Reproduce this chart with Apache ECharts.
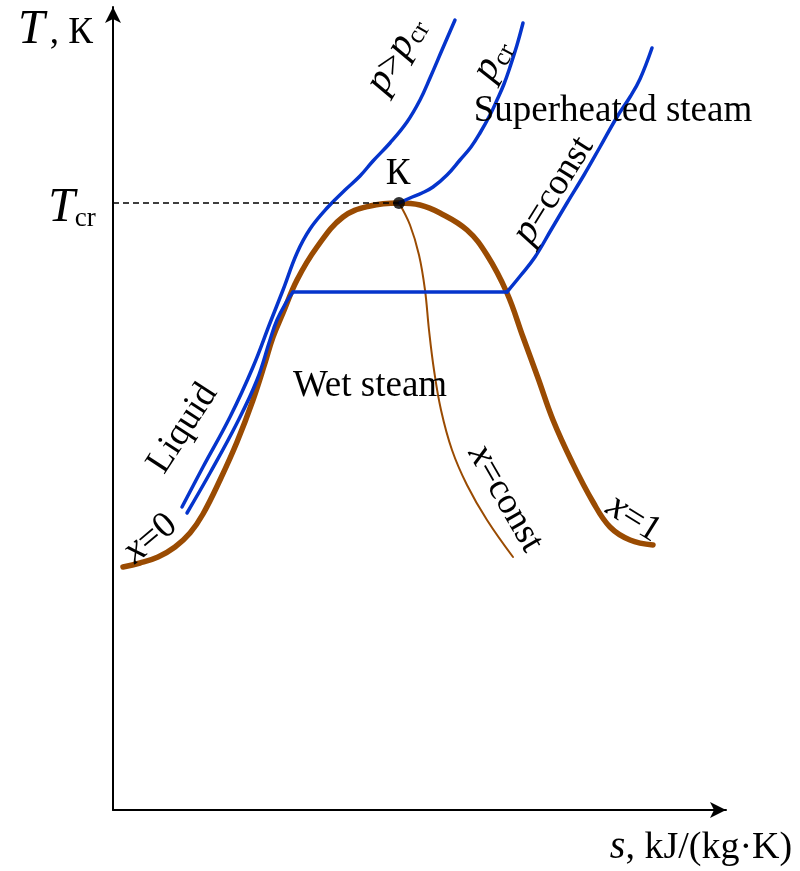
<!DOCTYPE html>
<html>
<head>
<meta charset="utf-8">
<script src="https://cdn.jsdelivr.net/npm/echarts@6/dist/echarts.min.js"></script>
<style>
html, body { margin: 0; padding: 0; background: #fff; }
#chart { width: 800px; height: 871px; }
</style>
</head>
<body>
<div id="chart"></div>
<script>
// Saturation dome: x = 0 branch, critical point, x = 1 branch  [s, T]
const saturationCurve = [
  [10, 243], [27, 247], [45, 253], [62, 263], [77, 277], [90, 296],
  [107, 330], [124, 368], [140, 410], [152, 447], [160, 473], [170, 497],
  [184, 530], [204, 563], [230, 593], [257, 604], [286, 607], [307, 605],
  [327, 597], [354, 580], [374, 555], [394, 517], [410, 473], [425, 432],
  [440, 390], [459, 348], [480, 308], [497, 283], [517, 270], [540, 265]
];

// Line of constant dryness inside the dome
const dryness = [
  [286, 607], [297, 585], [306, 555], [312, 520], [316, 480], [321, 440],
  [328, 400], [339, 360], [354, 325], [374, 290], [400, 253]
];

// Supercritical isobar p > p_cr
const isobarSuper = [
  [69, 303], [90, 343], [117, 393], [140, 443], [157, 487], [170, 520],
  [184, 557], [197, 581], [215, 603], [232, 620], [247, 634], [260, 649],
  [277, 667], [294, 688], [307, 710], [317, 732], [329, 760], [342, 790]
];

// Critical isobar above the critical point
const isobarCritical = [
  [286, 607], [297, 612], [309, 617], [320, 623], [334, 635], [347, 650],
  [358, 663], [367, 677], [377, 695], [384, 710], [391, 726], [397, 743],
  [404, 765], [410, 787]
];

// Subcritical isobar p = const: liquid, boiling plateau, superheated vapour
const isobarLiquid = [
  [74, 297], [97, 337], [124, 387], [144, 430], [157, 470], [164, 490],
  [174, 509], [180, 518]
];
const isobarPlateau = [[180, 518], [394, 518]];
const isobarVapour = [
  [394, 518], [408, 535], [422, 553], [438, 580], [454, 607], [471, 635],
  [487, 663], [504, 693], [517, 713], [527, 731], [539, 762]
];

// Critical point and the critical temperature level
const criticalPoint = [[286, 607]];
const criticalLevel = [[0, 607], [286, 607]];

const BLUE = '#0534cc';
const BROWN = '#9a4b02';
const SERIF = 'Liberation Serif';

const rich = {
  i: { fontFamily: SERIF, fontStyle: 'italic', fontSize: 40, fill: '#000' },
  n: { fontFamily: SERIF, fontSize: 37, fill: '#000', padding: [2, 0, 0, 0] },
  s: { fontFamily: SERIF, fontSize: 26, fill: '#000', padding: [18, 0, 0, 0] },
  bi: { fontFamily: SERIF, fontStyle: 'italic', fontSize: 48, fill: '#000' },
  bn: { fontFamily: SERIF, fontSize: 37, fill: '#000', padding: [6, 0, 0, 5] },
  bs: { fontFamily: SERIF, fontSize: 27, fill: '#000', padding: [22, 0, 0, 0] },
  an: { fontFamily: SERIF, fontSize: 38, fill: '#000', padding: [2, 0, 0, 0] }
};

function label(text, x, y, deg, align) {
  return {
    type: 'text',
    x: x, y: y,
    rotation: (deg || 0) * Math.PI / 180,
    z: 100,
    style: {
      text: text,
      rich: rich,
      align: align || 'center',
      verticalAlign: 'middle',
      fill: '#000'
    }
  };
}

function curve(data, color, width, smooth) {
  return {
    type: 'line',
    data: data,
    smooth: smooth,
    symbol: 'none',
    silent: true,
    lineStyle: { color: color, width: width, cap: 'round', join: 'round' }
  };
}

const chart = echarts.init(document.getElementById('chart'), null, { renderer: 'canvas' });

chart.setOption({
  animation: false,
  backgroundColor: '#fff',
  grid: { left: 113, right: 74, top: 7, bottom: 61 },
  xAxis: {
    type: 'value', min: 0, max: 613,
    axisLine: {
      show: true, onZero: false,
      symbol: ['none', 'arrow'], symbolSize: [12, 16],
      lineStyle: { color: '#000', width: 2 }
    },
    axisTick: { show: false }, axisLabel: { show: false }, splitLine: { show: false }
  },
  yAxis: {
    type: 'value', min: 0, max: 803,
    axisLine: {
      show: true, onZero: false,
      symbol: ['none', 'arrow'], symbolSize: [12, 16],
      lineStyle: { color: '#000', width: 2 }
    },
    axisTick: { show: false }, axisLabel: { show: false }, splitLine: { show: false }
  },
  series: [
    curve(saturationCurve, BROWN, 5.5, 0.4),
    curve(dryness, BROWN, 2, 0.4),
    curve(isobarSuper, BLUE, 3.5, 0.4),
    curve(isobarCritical, BLUE, 3.5, 0.4),
    curve(isobarLiquid, BLUE, 3.5, 0.4),
    curve(isobarPlateau, BLUE, 3.5, false),
    curve(isobarVapour, BLUE, 3.5, 0.4),
    {
      type: 'line', data: criticalLevel, symbol: 'none', silent: true,
      lineStyle: { color: '#000', width: 1.5, type: [6, 4] }
    },
    {
      type: 'scatter', data: criticalPoint, symbolSize: 12, silent: true, z: 10,
      itemStyle: { color: '#000' }
    }
  ],
  graphic: [
    label('{bi|T}{bn|, К}', 18, 30, 0, 'left'),
    label('{bi|T}{bs|cr}', 72, 208, 0),
    label('{n|К}', 398, 173, 0),
    label('{i|p}{n|>}{i|p}{s|cr}', 396, 55, 60),
    label('{i|p}{s|cr}', 492, 60, 62),
    label('{n|Superheated steam}', 613, 110, 0),
    label('{i|p}{n|=const}', 553, 190, 58),
    label('{n|Wet steam}', 370, 385, 0),
    label('{n|Liquid}', 182, 428, 57),
    label('{i|x}{n|=0}', 150, 538, 40),
    label('{i|x}{n|=const}', 506, 498, -60),
    label('{i|x}{n|=1}', 634, 518, -32),
    label('{i|s}{an|, kJ/(kg·K)}', 701, 847, 0)
  ]
});
</script>
</body>
</html>
